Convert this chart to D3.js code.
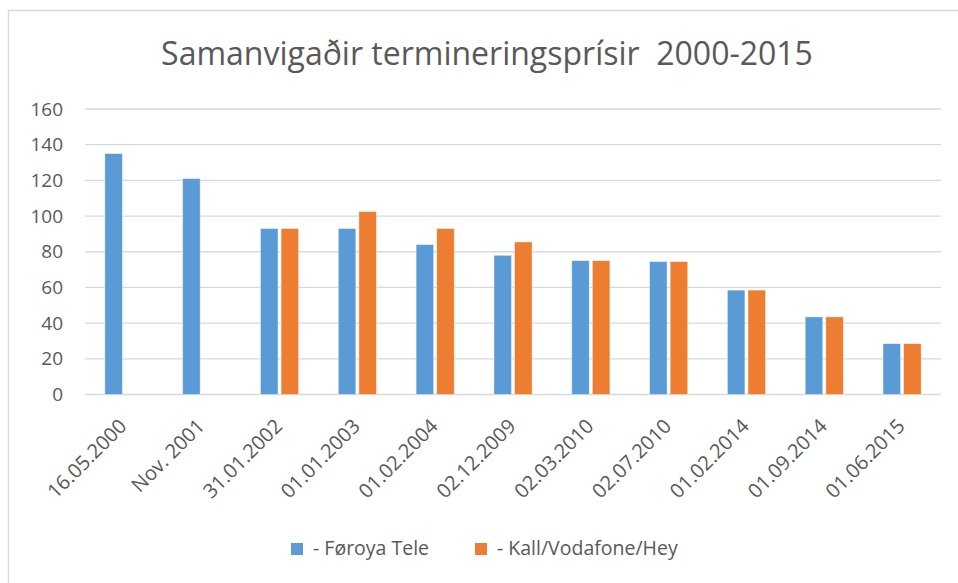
<!DOCTYPE html>
<html>
<head>
<meta charset="utf-8">
<title>Samanvigaðir termineringsprísir 2000-2015</title>
<script src="https://d3js.org/d3.v7.min.js"></script>
<style>
  body { margin: 0; background: #fff; }
  text { font-family: "Open Sans", sans-serif; fill: #595959; }
</style>
</head>
<body>
<div id="chart"></div>
<script>
// chart data
var dates = ["16.05.2000", "Nov. 2001", "31.01.2002", "01.01.2003", "01.02.2004", "02.12.2009",
             "02.03.2010", "02.07.2010", "01.02.2014", "01.09.2014", "01.06.2015"];
var foroyaTele = [135, 121, 93, 93, 84, 78, 75, 74.5, 58.5, 43.5, 28.5];
var kall = [null, null, 93, 102.5, 93, 85.5, 75, 74.5, 58.5, 43.5, 28.5];
var seriesNames = ["- Føroya Tele", "- Kall/Vodafone/Hey"];
var seriesColors = ["#5B9BD5", "#ED7D31"];
var yTicks = [0, 20, 40, 60, 80, 100, 120, 140, 160];

var width = 958, height = 583;
var margin = {top: 109, right: 17, bottom: 188.5, left: 85};

var svg = d3.select("#chart").append("svg")
    .attr("width", width)
    .attr("height", height);

// outer chart border (only top and left edges are inside the frame)
svg.append("rect")
    .attr("x", 8.5).attr("y", 10.5)
    .attr("width", 1000).attr("height", 1000)
    .attr("fill", "none")
    .attr("stroke", "#D9D9D9")
    .attr("stroke-width", 1.5);

svg.append("text")
    .attr("x", 487).attr("y", 65)
    .attr("text-anchor", "middle")
    .style("font-size", "32px")
    .style("white-space", "pre")
    .text("Samanvigaðir termineringsprísir  2000-2015");

var g = svg.append("g")
    .attr("transform", "translate(" + margin.left + "," + margin.top + ")");
var w = width - margin.left - margin.right,
    h = height - margin.top - margin.bottom;

var x0 = d3.scaleBand().domain(dates).range([0, w]).paddingInner(0.51).paddingOuter(0.255);
var x1 = d3.scaleBand().domain([0, 1]).range([0, x0.bandwidth()]).paddingInner(0.15);
var y = d3.scaleLinear().domain([0, 160]).range([h, 0]);

// gridlines
g.append("g")
    .selectAll("line")
    .data(yTicks)
    .enter().append("line")
    .attr("x1", 0).attr("x2", w)
    .attr("y1", function(d) { return y(d); })
    .attr("y2", function(d) { return y(d); })
    .attr("stroke", "#D9D9D9")
    .attr("stroke-width", 1.3);

// y axis labels
var yAxis = g.append("g")
    .call(d3.axisLeft(y).tickValues(yTicks).tickSize(0).tickPadding(22));
yAxis.select(".domain").remove();
yAxis.selectAll("text").style("font-size", "19px").attr("fill", "#595959");

// bars
var rows = dates.map(function(d, i) { return {date: d, vals: [foroyaTele[i], kall[i]]}; });
var groups = g.selectAll(".grp")
    .data(rows)
    .enter().append("g")
    .attr("transform", function(d) { return "translate(" + x0(d.date) + ",0)"; });
groups.selectAll("rect")
    .data(function(d) { return d.vals.map(function(v, k) { return {k: k, v: v}; }).filter(function(e) { return e.v != null; }); })
    .enter().append("rect")
    .attr("x", function(d) { return x1(d.k); })
    .attr("y", function(d) { return y(d.v); })
    .attr("width", x1.bandwidth())
    .attr("height", function(d) { return h - y(d.v); })
    .attr("fill", function(d) { return seriesColors[d.k]; })
    .attr("stroke", "#fff")
    .attr("stroke-opacity", 0.5)
    .attr("stroke-width", 0.8);

// x labels rotated
g.append("g")
    .selectAll("text")
    .data(dates)
    .enter().append("text")
    .attr("transform", function(d) {
        return "translate(" + (x0(d) + x0.bandwidth() / 2 + 4) + "," + (h + 33) + ") rotate(-45)";
    })
    .attr("text-anchor", "end")
    .style("font-size", "20px")
    .text(function(d) { return d; });

// legend
var legendX = [291, 475];
var legend = svg.append("g");
seriesNames.forEach(function(name, i) {
    legend.append("rect")
        .attr("x", legendX[i]).attr("y", 543)
        .attr("width", 12).attr("height", 12)
        .attr("fill", seriesColors[i]);
    legend.append("text")
        .attr("x", legendX[i] + 22).attr("y", 555)
        .style("font-size", "19.5px")
        .text(name);
});
</script>
</body>
</html>
